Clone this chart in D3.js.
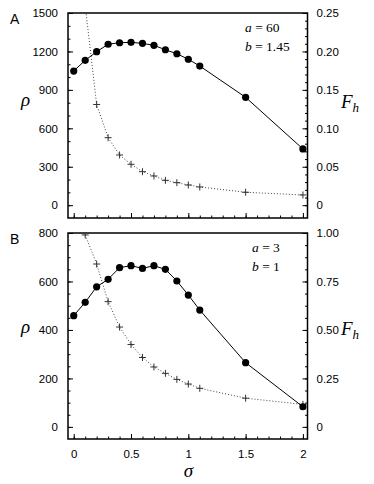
<!DOCTYPE html>
<html>
<head>
<meta charset="utf-8">
<script src="https://cdn.jsdelivr.net/npm/d3@7"></script>
<style>
  body { margin: 0; background: #fff; }
  .tick text { font-family: "Liberation Sans", Arial, sans-serif; font-size: 11.5px; fill: #000; }
  .tick line { stroke: #000; }
</style>
</head>
<body>
<script>
// sigma values shared by both panels
var sigma = [0, 0.1, 0.2, 0.3, 0.4, 0.5, 0.6, 0.7, 0.8, 0.9, 1.0, 1.1, 1.5, 2.0];
var sigmaF = [0.1, 0.2, 0.3, 0.4, 0.5, 0.6, 0.7, 0.8, 0.9, 1.0, 1.1, 1.5, 2.0];

// panel A (a = 60, b = 1.45)
var rhoA = [1047, 1131, 1198, 1256, 1268, 1271, 1263, 1248, 1213, 1182, 1139, 1086, 842, 439];
var fhA = [0.26, 0.131, 0.0878, 0.0653, 0.0532, 0.0436, 0.038, 0.0323, 0.0293, 0.0263, 0.0237, 0.0168, 0.0133];
var rhoTicksA = [0, 300, 600, 900, 1200, 1500];
var fhTicksA = [0, 0.05, 0.10, 0.15, 0.20, 0.25];

// panel B (a = 3, b = 1)
var rhoB = [459, 514, 578, 609, 657, 665, 654, 665, 650, 602, 544, 482, 265, 83];
var fhB = [0.99, 0.84, 0.646, 0.515, 0.425, 0.358, 0.309, 0.276, 0.245, 0.221, 0.199, 0.148, 0.116];
var rhoTicksB = [0, 200, 400, 600, 800];
var fhTicksB = [0, 0.25, 0.50, 0.75, 1.00];

var sigmaTicks = [0, 0.5, 1, 1.5, 2];

var width = 374,
    height = 484;

var svg = d3.select("body")
      .append("svg")
      .attr("width", width)
      .attr("height", height);

var x = d3.scaleLinear().domain([-0.05, 2.04]).range([68, 307.5]);

function drawPanel(p) {
  var y = d3.scaleLinear().domain(p.rhoDomain).range([p.bottom, p.top]);
  var yR = d3.scaleLinear().domain([p.rhoDomain[0] / p.ratio, p.rhoDomain[1] / p.ratio]).range([p.bottom, p.top]);

  var g = svg.append("g");

  g.append("clipPath").attr("id", "clip" + p.name)
    .append("rect")
    .attr("x", x.range()[0]).attr("y", p.top)
    .attr("width", x.range()[1] - x.range()[0]).attr("height", p.bottom - p.top);

  //minor + major ticks, all pointing inside the frame
  g.append("g").attr("transform", "translate(" + x.range()[0] + ",0)")
    .call(d3.axisLeft(y).tickValues(d3.range(0, p.rhoDomain[1] + 1, p.rhoMinor)).tickSize(-2.5).tickFormat(""));
  g.append("g").attr("transform", "translate(" + x.range()[0] + ",0)")
    .call(d3.axisLeft(y).tickValues(p.rhoTicks).tickSizeInner(-5).tickSizeOuter(0).tickPadding(10)
      .tickFormat(d3.format("d")));

  g.append("g").attr("transform", "translate(" + x.range()[1] + ",0)")
    .call(d3.axisRight(yR).tickValues(d3.range(0, p.fhTicks[p.fhTicks.length - 1] + 1e-9, p.fhMinor)).tickSize(-2.5).tickFormat(""));
  g.append("g").attr("transform", "translate(" + x.range()[1] + ",0)")
    .call(d3.axisRight(yR).tickValues(p.fhTicks).tickSizeInner(-5).tickSizeOuter(0).tickPadding(9)
      .tickFormat(function(d) { return d === 0 ? "0" : d3.format(".2f")(d); }));

  g.append("g").attr("transform", "translate(0," + p.bottom + ")")
    .call(d3.axisBottom(x).tickValues(d3.range(0, 2.01, 0.1)).tickSize(-2.5).tickFormat(""));
  g.append("g").attr("transform", "translate(0," + p.bottom + ")")
    .call(d3.axisBottom(x).tickValues(sigmaTicks).tickSizeInner(-5).tickSizeOuter(0).tickPadding(11)
      .tickFormat(p.xLabels ? d3.format("") : ""));

  g.selectAll(".domain").remove();

  g.append("rect")
    .attr("x", x.range()[0]).attr("y", p.top)
    .attr("width", x.range()[1] - x.range()[0]).attr("height", p.bottom - p.top)
    .attr("fill", "none").attr("stroke", "#000").attr("stroke-width", 1.5);

  var plot = g.append("g").attr("clip-path", "url(#clip" + p.name + ")");

  //F_h dotted curve with crosses
  var fhData = sigmaF.map(function(s, i) { return [s, p.fh[i]]; });
  plot.append("path")
    .datum(fhData)
    .attr("fill", "none")
    .attr("stroke", "#444")
    .attr("stroke-width", 1)
    .attr("stroke-dasharray", "1,2")
    .attr("d", d3.line().x(function(d) { return x(d[0]); }).y(function(d) { return yR(d[1]); }));

  plot.selectAll(".cross")
    .data(fhData)
    .enter()
    .append("path")
    .attr("class", "cross")
    .attr("stroke", "#333")
    .attr("stroke-width", 1)
    .attr("d", function(d) {
      var cx = x(d[0]), cy = yR(d[1]), r = 3.5;
      return "M" + (cx - r) + "," + cy + "H" + (cx + r) + "M" + cx + "," + (cy - r) + "V" + (cy + r);
    });

  //rho solid line with dots
  var rhoData = sigma.map(function(s, i) { return [s, p.rho[i]]; });
  plot.append("path")
    .datum(rhoData)
    .attr("fill", "none")
    .attr("stroke", "#000")
    .attr("stroke-width", 1)
    .attr("d", d3.line().x(function(d) { return x(d[0]); }).y(function(d) { return y(d[1]); }));

  plot.selectAll(".dot")
    .data(rhoData)
    .enter()
    .append("circle")
    .attr("class", "dot")
    .attr("cx", function(d) { return x(d[0]); })
    .attr("cy", function(d) { return y(d[1]); })
    .attr("r", 3.6)
    .attr("fill", "#000");

  //labels
  g.append("text")
    .attr("x", 10).attr("y", p.top + 11)
    .style("font-family", "Liberation Sans, Arial, sans-serif")
    .style("font-size", "14px")
    .text(p.name);

  g.append("text")
    .attr("x", 21).attr("y", p.rhoLabelY)
    .style("font-family", "Liberation Serif, serif")
    .style("font-style", "italic")
    .style("font-size", "19px")
    .text("ρ");

  var fl = g.append("text")
    .attr("x", 341).attr("y", p.fhLabelY)
    .style("font-family", "Liberation Serif, serif")
    .style("font-style", "italic")
    .style("font-size", "19px");
  fl.append("tspan").text("F");
  fl.append("tspan").attr("dy", 4).style("font-size", "13px").text("h");

  p.notes.forEach(function(n, i) {
    var t = g.append("text")
      .attr("x", p.noteX).attr("y", p.top + 19 + i * 19)
      .style("font-family", "Liberation Serif, serif")
      .style("font-size", "13.5px");
    t.append("tspan").style("font-style", "italic").text(n[0]);
    t.append("tspan").text(" = " + n[1]);
  });
}

drawPanel({
  name: "A", top: 13, bottom: 218,
  rhoDomain: [-100, 1500], ratio: 6000,
  rho: rhoA, fh: fhA,
  rhoTicks: rhoTicksA, rhoMinor: 100,
  fhTicks: fhTicksA, fhMinor: 0.01,
  xLabels: false,
  rhoLabelY: 106, fhLabelY: 108,
  noteX: 245, notes: [["a", "60"], ["b", "1.45"]]
});

drawPanel({
  name: "B", top: 233, bottom: 439,
  rhoDomain: [-50, 800], ratio: 800,
  rho: rhoB, fh: fhB,
  rhoTicks: rhoTicksB, rhoMinor: 50,
  fhTicks: fhTicksB, fhMinor: 0.0625,
  xLabels: true,
  rhoLabelY: 333, fhLabelY: 335,
  noteX: 252, notes: [["a", "3"], ["b", "1"]]
});

svg.append("text")
  .attr("x", x(1)).attr("y", 477)
  .attr("text-anchor", "middle")
  .style("font-family", "Liberation Serif, serif")
  .style("font-style", "italic")
  .style("font-size", "19px")
  .text("σ");
</script>
</body>
</html>
